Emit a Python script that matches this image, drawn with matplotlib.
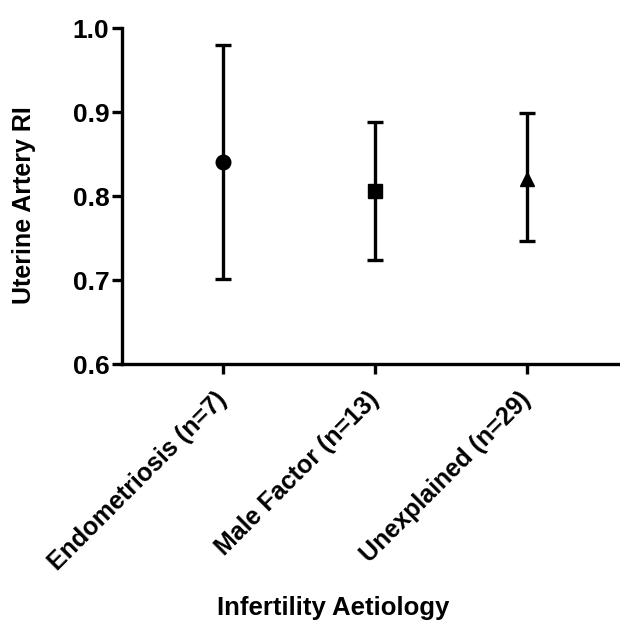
import matplotlib
matplotlib.use("Agg")
import matplotlib.pyplot as plt

categories = ["Endometriosis (n=7)", "Male Factor (n=13)", "Unexplained (n=29)"]
means = [0.840, 0.806, 0.820]
lower = [0.701, 0.724, 0.746]
upper = [0.980, 0.888, 0.899]
markers = ["o", "s", "^"]
yticks = [0.6, 0.7, 0.8, 0.9, 1.0]

plt.rcParams['font.family'] = ['Liberation Sans', 'DejaVu Sans']
plt.rcParams['font.weight'] = 'bold'

fig = plt.figure(figsize=(6.2, 6.22), dpi=100)
ax = fig.add_axes([122/620, 1-364/622, 1-122/620, (364-28)/622])

for i, (m, lo, hi, mk) in enumerate(zip(means, lower, upper, markers)):
    ax.errorbar([i], [m], yerr=[[m - lo], [hi - m]], fmt=mk, color='black',
                ecolor='black', elinewidth=2.4, capsize=6, capthick=2.4,
                markersize=10.5 if mk != 's' else 9.5, clip_on=False)

ax.set_xlim(-0.664, 2.61)
ax.set_ylim(0.6, 1.0)
ax.set_yticks(yticks)
ax.set_yticklabels([f"{v:.1f}" for v in yticks], fontsize=19, fontweight='bold')
ax.set_xticks(range(len(categories)))
ax.set_xticklabels(categories, rotation=45, ha='right', va='center',
                   rotation_mode='anchor', fontsize=18, fontweight='bold')
for s in ['top', 'right']:
    ax.spines[s].set_visible(False)
for s in ['left', 'bottom']:
    ax.spines[s].set_linewidth(2.4)
ax.tick_params(axis='both', direction='out', length=7, width=2.4)
ax.tick_params(axis='y', pad=2)
ax.tick_params(axis='x', pad=16)
ax.set_ylabel("Uterine Artery RI", fontsize=18, fontweight='bold')
ax.yaxis.set_label_coords(-0.173, 0.473)
ax.set_xlabel("Infertility Aetiology", fontsize=18.5, fontweight='bold')
ax.xaxis.set_label_coords(0.424, -0.69)

fig.savefig("out.png", dpi=100)
